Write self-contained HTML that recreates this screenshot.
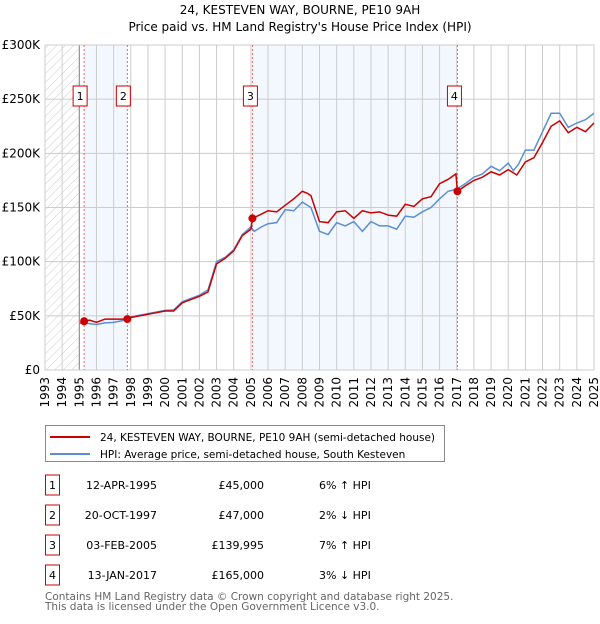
<!DOCTYPE html>
<html><head><meta charset="utf-8"><style>
body{margin:0;background:#fff;font-family:"DejaVu Sans","Liberation Sans",sans-serif;}
svg text{font-family:"DejaVu Sans","Liberation Sans",sans-serif;}
</style></head><body>
<svg id="c" width="600" height="620" viewBox="0 0 600 620">
<defs><pattern id="hatch" width="6" height="6" patternUnits="userSpaceOnUse" patternTransform="rotate(45)"><line x1="0" y1="0" x2="0" y2="6" stroke="#ccc" stroke-width="1"/></pattern></defs>
<text x="300" y="14" text-anchor="middle" font-size="12">24, KESTEVEN WAY, BOURNE, PE10 9AH</text>
<text x="300" y="31" text-anchor="middle" font-size="12">Price paid vs. HM Land Registry's House Price Index (HPI)</text>
<g id="plot"></g>
<g>
<rect x="45.5" y="425.5" width="399" height="36" fill="#fff" stroke="#888"/>
<line x1="50" y1="437" x2="90" y2="437" stroke="#cc0000" stroke-width="2"/>
<text x="100" y="441" font-size="10.5">24, KESTEVEN WAY, BOURNE, PE10 9AH (semi-detached house)</text>
<line x1="50" y1="454" x2="90" y2="454" stroke="#5b8fd4" stroke-width="2"/>
<text x="100" y="458" font-size="10.5">HPI: Average price, semi-detached house, South Kesteven</text>
</g>
<g id="table" font-size="11"></g>
<text x="45" y="600" font-size="10.5" fill="#666">Contains HM Land Registry data © Crown copyright and database right 2025.</text>
<text x="45" y="610" font-size="10.5" fill="#666">This data is licensed under the Open Government Licence v3.0.</text>
</svg>
<script>
const yearTicks=[1993,1994,1995,1996,1997,1998,1999,2000,2001,2002,2003,2004,2005,2006,2007,2008,2009,2010,2011,2012,2013,2014,2015,2016,2017,2018,2019,2020,2021,2022,2023,2024,2025];
const valueTicks=[0,50000,100000,150000,200000,250000,300000];
const valueLabels=["£0","£50K","£100K","£150K","£200K","£250K","£300K"];
const hpiT=[1995.0,1995.3,1996,1996.5,1997,1997.8,1998,1999,2000,2000.5,2001,2002,2002.5,2003,2003.5,2004,2004.5,2005,2005.2,2005.6,2006,2006.5,2007,2007.5,2008,2008.5,2009,2009.5,2010,2010.5,2011,2011.5,2012,2012.5,2013,2013.5,2014,2014.5,2015,2015.5,2016,2016.5,2017,2017.5,2018,2018.5,2019,2019.5,2020,2020.3,2020.6,2021,2021.5,2022,2022.5,2023,2023.5,2024,2024.5,2025];
const hpiV=[43000,43400,42000,43500,44000,46500,49000,52000,55000,55500,63000,69000,74000,100000,104000,111000,125000,132000,128000,132000,135000,136000,148000,147000,155000,150000,128000,125000,136000,133000,137000,128000,137000,133000,133000,130000,142000,141000,146000,150000,158000,165000,167000,172000,178000,181000,188000,184000,191000,184000,190000,203000,203000,220000,237000,237000,224000,228000,231000,237000];
const ppT=[1995.28,1995.6,1996,1996.5,1997,1997.8,1998,1999,2000,2000.5,2001,2002,2002.5,2003,2003.5,2004,2004.5,2005.0,2005.09,2005.5,2006,2006.5,2007,2007.5,2008,2008.3,2008.5,2009,2009.5,2010,2010.5,2011,2011.5,2012,2012.5,2013,2013.5,2014,2014.5,2015,2015.5,2016,2016.5,2016.95,2017.04,2017.5,2018,2018.5,2019,2019.5,2020,2020.5,2021,2021.5,2022,2022.5,2023,2023.5,2024,2024.5,2025];
const ppV=[45000,46000,44000,47000,47000,47000,48500,51500,54500,54500,62000,68000,72000,98000,103000,110000,124000,130000,140000,143000,147000,146000,152000,158000,165000,163000,161000,137000,136000,146000,147000,140000,147000,145000,146000,143000,142000,153000,151000,158000,160000,172000,176000,181000,165000,170000,175000,178000,183000,180000,185000,180000,192000,196000,210000,225000,230000,219000,224000,220000,228000];
const saleT=[1995.28,1997.8,2005.09,2017.04];
const saleV=[45000,47000,139995,165000];
const saleDates=["12-APR-1995","20-OCT-1997","03-FEB-2005","13-JAN-2017"];
const salePrices=["£45,000","£47,000","£139,995","£165,000"];
const saleRel=["6% ↑ HPI","2% ↓ HPI","7% ↑ HPI","3% ↓ HPI"];

const X0=45,X1=594,Y0=370,Y1=45;
const x=t=>X0+(t-1993)/(2025-1993)*(X1-X0);
const y=v=>Y0-v/300000*(Y0-Y1);
const NS="http://www.w3.org/2000/svg";
const plot=document.getElementById('plot');
function mk(tag,attrs,parent){const e=document.createElementNS(NS,tag);for(const k in attrs)e.setAttribute(k,attrs[k]);(parent||plot).appendChild(e);return e;}

let e;
e=mk('rect',{x:X0,y:Y1,width:X1-X0,height:Y0-Y1,fill:'#fff'});


e=mk('rect',{x:X0,y:Y1,width:x(1995)-X0,height:Y0-Y1,fill:'url(#hatch)'});


for(const [a,b] of [[saleT[0],saleT[1]],[saleT[2],saleT[3]]]){
 e=mk('rect',{x:x(a),y:Y1,width:x(b)-x(a),height:Y0-Y1,fill:'#f3f7fe'});
 
 
}
yearTicks.forEach(t=>{
 e=mk('line',{x1:x(t),x2:x(t),y1:Y1,y2:Y0,stroke:'#ccc','stroke-width':1});
 
 
 e=mk('text',{x:0,y:0,'font-size':12,'text-anchor':'end',transform:`translate(${x(t)+4},${Y0+7}) rotate(-90)`});
 e.textContent=t;
 
 
});
valueTicks.forEach((v,i)=>{
 e=mk('line',{x1:X0,x2:X1,y1:y(v),y2:y(v),stroke:'#ccc','stroke-width':1});
 
 
 e=mk('text',{x:X0-5,y:y(v)+4,'font-size':12,'text-anchor':'end'});
 e.textContent=valueLabels[i];
 
 
});
e=mk('line',{x1:x(1995),x2:x(1995),y1:Y1,y2:Y0,stroke:'#888','stroke-width':1});


e=mk('rect',{x:X0,y:Y1,width:X1-X0,height:Y0-Y1,fill:'none',stroke:'#ccc'});


saleT.forEach((t,i)=>{
 e=mk('line',{x1:x(t),x2:x(t),y1:Y1,y2:Y0,stroke:'#e66','stroke-width':1,'stroke-dasharray':'2,2'});
 
 
});
e=mk('polyline',{points:hpiT.map((t,i)=>x(t)+','+y(hpiV[i])).join(' '),fill:'none',stroke:'#5b8fd4','stroke-width':1.5});


e=mk('polyline',{points:ppT.map((t,i)=>x(t)+','+y(ppV[i])).join(' '),fill:'none',stroke:'#cc0000','stroke-width':1.5});


saleT.forEach((t,i)=>{
 e=mk('circle',{cx:x(t),cy:y(saleV[i]),r:4,fill:'#cc0000'});
 
 
 const bx=x(t)-7-(i<2?4:i==2?2:3);
 e=mk('rect',{x:bx,y:86,width:14,height:20,fill:'#fff',stroke:'#cc0000'});
 
 
 e=mk('text',{x:bx+7,y:100,'font-size':11,'text-anchor':'middle'});
 e.textContent=i+1;
 
 
});
const tbl=document.getElementById('table');
saleT.forEach((t,i)=>{
 const cy=485+i*30;
 e=mk('rect',{x:45.5,y:cy-10,width:14,height:20,fill:'#fff',stroke:'#cc0000'},tbl);
 
 
 e=mk('text',{x:52.5,y:cy+4,'text-anchor':'middle'},tbl);e.textContent=i+1;
 
 
 e=mk('text',{x:157,y:cy+4,'text-anchor':'end'},tbl);e.textContent=saleDates[i];
 
 
 e=mk('text',{x:264,y:cy+4,'text-anchor':'end'},tbl);e.textContent=salePrices[i];
 
 
 e=mk('text',{x:319,y:cy+4},tbl);e.textContent=saleRel[i];
 
 
});
</script>
</body></html>
